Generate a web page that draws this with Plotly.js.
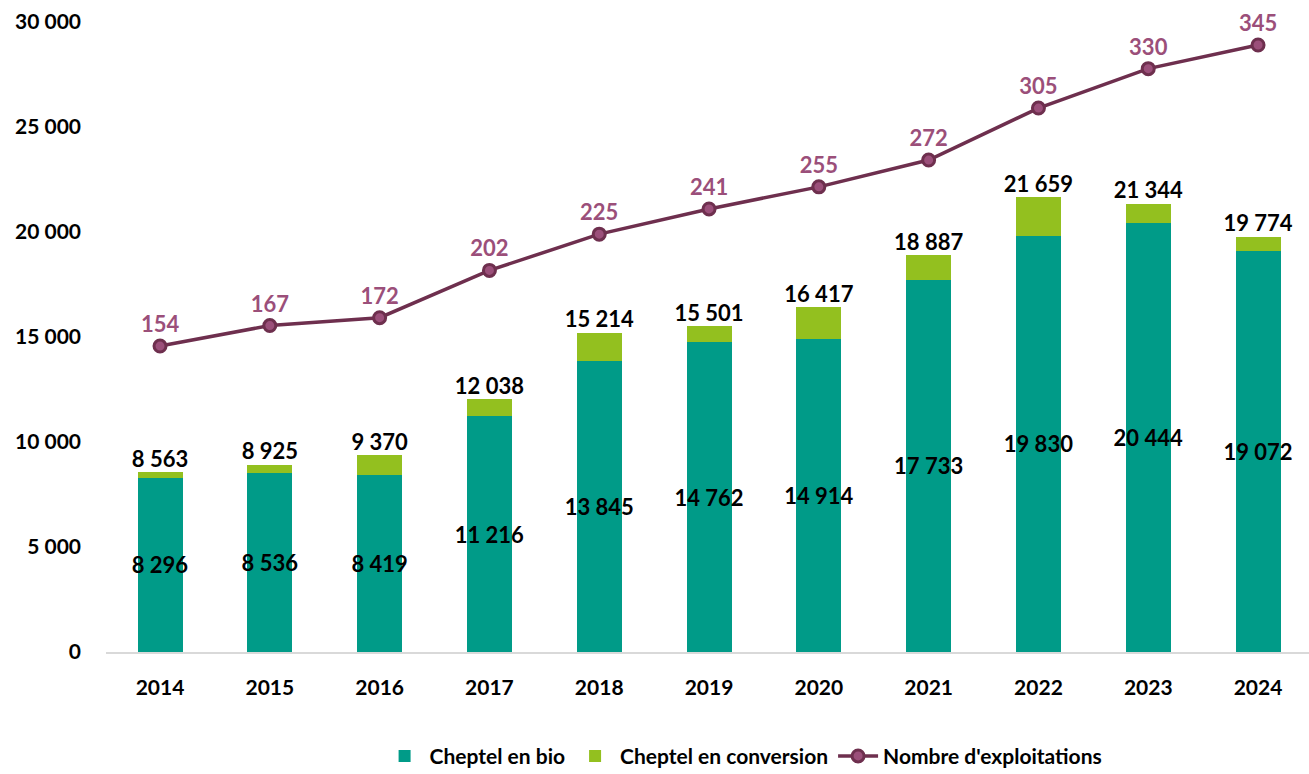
<!DOCTYPE html>
<html>
<head>
<meta charset="utf-8">
<script src="https://cdn.plot.ly/plotly-3.0.1.min.js"></script>
<style>html,body{margin:0;padding:0;background:#fff;}#chart{width:1309px;height:774px;}</style>
</head>
<body>
<div id="chart"></div>
<script>
const years = ['2014','2015','2016','2017','2018','2019','2020','2021','2022','2023','2024'];
const bio = [8296, 8536, 8419, 11216, 13845, 14762, 14914, 17733, 19830, 20444, 19072];
const totals = [8563, 8925, 9370, 12038, 15214, 15501, 16417, 18887, 21659, 21344, 19774];
const exploitations = [154, 167, 172, 202, 225, 241, 255, 272, 305, 330, 345];
const yTicks = [0, 5000, 10000, 15000, 20000, 25000, 30000];

const conversion = totals.map((t, i) => t - bio[i]);
const fmt = v => String(v).replace(/\B(?=(\d{3})+(?!\d))/g, ' ');
const FONT = 'Lato, "Open Sans", "DejaVu Sans", sans-serif';

const traces = [
  {
    type: 'bar', x: years, y: bio, name: 'Cheptel en bio',
    marker: {color: '#009B88'}, width: 0.41,
    text: bio.map(fmt), textposition: 'inside', insidetextanchor: 'middle', textangle: 0,
    textfont: {family: FONT, size: 22, color: '#000', weight: 'bold'},
    constraintext: 'none', cliponaxis: false, hoverinfo: 'skip'
  },
  {
    type: 'bar', x: years, y: conversion, name: 'Cheptel en conversion',
    marker: {color: '#93C01F'}, width: 0.41, hoverinfo: 'skip'
  },
  {
    type: 'scatter', mode: 'text', x: years, y: totals, showlegend: false,
    text: totals.map(fmt), textposition: 'top center',
    textfont: {family: FONT, size: 22, color: '#000', weight: 'bold'},
    cliponaxis: false, hoverinfo: 'skip'
  },
  {
    type: 'scatter', mode: 'lines+markers+text', x: years, y: exploitations,
    yaxis: 'y2', name: "Nombre d'exploitations",
    line: {color: '#6E2F4E', width: 3.5},
    marker: {size: 12, color: '#9B4F7A', line: {color: '#6E2F4E', width: 3}},
    text: exploitations.map(String), textposition: 'top center',
    textfont: {family: FONT, size: 22, color: '#9B4F7A', weight: 'bold'},
    cliponaxis: false, hoverinfo: 'skip'
  }
];

const layout = {
  width: 1309, height: 774,
  margin: {l: 106, r: 0, t: 22, b: 122, autoexpand: false},
  barmode: 'stack',
  paper_bgcolor: '#fff', plot_bgcolor: '#fff',
  font: {family: FONT, size: 21, color: '#000', weight: 'bold'},
  showlegend: true,
  legend: {
    orientation: 'h', x: 0.53, xanchor: 'center', y: -0.133, yanchor: 'top',
    font: {family: FONT, size: 21, color: '#000', weight: 'bold'},
    traceorder: 'normal', itemwidth: 40
  },
  xaxis: {
    type: 'category', range: [-0.492, 10.464],
    showgrid: false, zeroline: false,
    showline: true, linecolor: '#D9D9D9', linewidth: 1.5,
    ticks: '', ticklabelstandoff: 16,
    tickfont: {family: FONT, size: 21, color: '#000', weight: 'bold'}
  },
  yaxis: {
    range: [0, 30000], tickvals: yTicks, ticktext: yTicks.map(fmt),
    showgrid: false, zeroline: false, showline: false, ticks: '',
    ticklabelstandoff: 24,
    tickfont: {family: FONT, size: 21, color: '#000', weight: 'bold'}
  },
  yaxis2: {
    overlaying: 'y', side: 'right', range: [-40.1, 359.6],
    visible: false, showgrid: false, zeroline: false
  }
};

Plotly.newPlot('chart', traces, layout, {displayModeBar: false, staticPlot: true});
</script>
</body>
</html>
